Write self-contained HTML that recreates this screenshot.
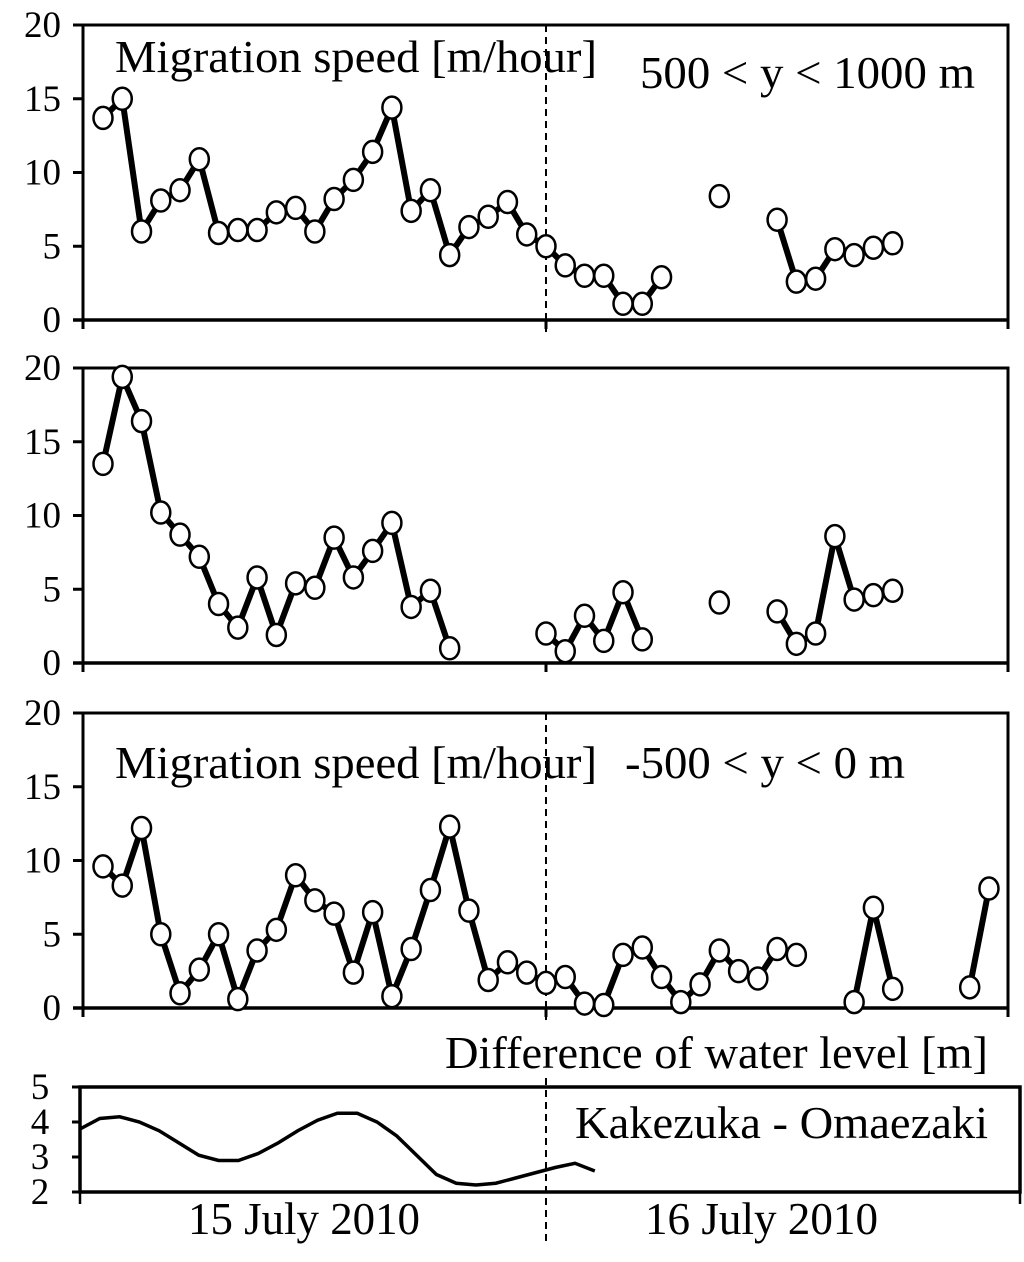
<!DOCTYPE html>
<html><head><meta charset="utf-8"><style>
html,body{margin:0;padding:0;background:#fff;}
svg{display:block;font-family:"Liberation Serif",serif;}
</style></head><body>
<svg id="chart" width="1024" height="1262" viewBox="0 0 1024 1262" xmlns="http://www.w3.org/2000/svg"></svg>
<script>
// Data (null = gap)
const hours = Array.from({length:47},(_,i)=>i);
const panel1Values = [13.7,15.0,6.0,8.1,8.8,10.9,5.9,6.1,6.1,7.3,7.6,6.0,8.2,9.5,11.4,14.4,7.4,8.8,4.4,6.3,7.0,8.0,5.8,5.0,3.7,3.0,3.0,1.1,1.1,2.9,null,null,8.4,null,null,6.8,2.6,2.8,4.8,4.4,4.9,5.2,null,null,null,null,null];
const panel2Values = [13.5,19.4,16.4,10.2,8.7,7.2,4.0,2.4,5.8,1.9,5.4,5.1,8.5,5.8,7.6,9.5,3.8,4.9,1.0,null,null,null,null,2.0,0.8,3.2,1.5,4.8,1.6,null,null,null,4.1,null,null,3.5,1.3,2.0,8.6,4.3,4.6,4.9,null,null,null,null,null];
const panel3Values = [9.6,8.3,12.2,5.0,1.0,2.6,5.0,0.6,3.9,5.3,9.0,7.3,6.4,2.4,6.5,0.8,4.0,8.0,12.3,6.6,1.9,3.1,2.4,1.7,2.1,0.3,0.2,3.6,4.1,2.1,0.4,1.6,3.9,2.5,2.0,4.0,3.6,null,null,0.4,6.8,1.3,null,null,null,1.4,8.1];
const speedTicks = [0,5,10,15,20];
const levelTicks = [2,3,4,5];
const levelValues = [3.8,4.1,4.15,4.0,3.75,3.4,3.05,2.9,2.9,3.1,3.4,3.75,4.05,4.25,4.25,4.0,3.6,3.05,2.5,2.25,2.2,2.25,2.4,2.55,2.7,2.82,2.6];

const svg=document.getElementById('chart');
const NS='http://www.w3.org/2000/svg';
function mk(tag,attrs,parent){const e=document.createElementNS(NS,tag);for(const k in attrs)e.setAttribute(k,attrs[k]);(parent||svg).appendChild(e);return e;}
const X0=103, DX=19.26;
function xs(i){return X0+DX*i;}

const panels=[
 {vals:panel1Values,top:25,bot:320,name:'panel-500-1000',dash:true},
 {vals:panel2Values,top:368,bot:663,name:'panel-0-500',dash:false},
 {vals:panel3Values,top:713,bot:1008,name:'panel-neg500-0',dash:true}
];
panels.forEach((p,pi)=>{
  const g=mk('g',{});
  
  
  const ys=v=>p.bot-(v/20)*(p.bot-p.top);
  const box=mk('path',{d:`M73 ${p.top} H1008 V${p.bot} M83 ${p.top} V${p.bot}`,fill:'none',stroke:'#000','stroke-width':3},g);
  
  
  const xa=mk('line',{x1:73,y1:p.bot,x2:1008,y2:p.bot,stroke:'#000','stroke-width':3.5},g);
  
  
  [83,546,1008].forEach(x=>{mk('line',{x1:x,y1:p.bot,x2:x,y2:p.bot+9,stroke:'#000','stroke-width':3},g);});
  speedTicks.forEach(t=>{
    const y=ys(t);
    mk('line',{x1:73,y1:y,x2:83,y2:y,stroke:'#000','stroke-width':3},g);
    const tx=mk('text',{x:61,y:y+12,'text-anchor':'end','font-size':37},g);
    tx.textContent=t;
    
    
  });
  if(p.dash){
    const dl=mk('line',{x1:546,y1:p.top,x2:546,y2:p.bot+12,stroke:'#000','stroke-width':2,'stroke-dasharray':'7,5'},g);
    
    
  }
  let seg=[];
  const flush=()=>{ if(seg.length>1){const pl=mk('polyline',{points:seg.join(' '),fill:'none',stroke:'#000','stroke-width':6,'stroke-linejoin':'miter'},g);
    
    } seg=[]; };
  hours.forEach(i=>{const v=p.vals[i]; if(v==null){flush();} else seg.push(xs(i)+','+ys(v));});
  flush();
  hours.forEach(i=>{const v=p.vals[i]; if(v==null)return;
    const c=mk('ellipse',{cx:xs(i),cy:ys(v),rx:9.5,ry:11,fill:'#fff',stroke:'#000','stroke-width':2.5},g);
    
    
  });
});
function txt(s,x,y,w,name){const t=mk('text',{x:x,y:y,'font-size':46,textLength:w,lengthAdjust:'spacingAndGlyphs'});t.textContent=s;
  
  return t;}
txt('Migration speed [m/hour]',115,72,482,'panel1-title');
txt('500 < y < 1000 m',640,88,335,'panel1-range');
txt('Migration speed [m/hour]',115,778,482,'panel3-title');
txt('-500 < y < 0 m',625,778,280,'panel3-range');
txt('Difference of water level [m]',445,1068,543,'water-level-title');

const wl=mk('g',{});


const WT=1087,WB=1192,WX0=80,WX1=1020;
const wy=v=>WB-(v-2)/3*(WB-WT);
const wf=mk('rect',{x:WX0,y:WT,width:WX1-WX0,height:WB-WT,fill:'none',stroke:'#000','stroke-width':3.5},wl);


levelTicks.forEach(t=>{const y=wy(t);
  mk('line',{x1:72,y1:y,x2:WX0,y2:y,stroke:'#000','stroke-width':3},wl);
  const tx=mk('text',{x:40,y:y+12,'text-anchor':'middle','font-size':37},wl);tx.textContent=t;
  
  
});
[WX0,WX1].forEach(x=>mk('line',{x1:x,y1:WB,x2:x,y2:WB+12,stroke:'#000','stroke-width':2.5},wl));
const wd=mk('line',{x1:546,y1:1078,x2:546,y2:1245,stroke:'#000','stroke-width':2,'stroke-dasharray':'7,5'},wl);


const WDX=19.8;
const lp=mk('polyline',{points:levelValues.map((v,i)=>(WX0+WDX*i)+','+wy(v)).join(' '),fill:'none',stroke:'#000','stroke-width':3.5},wl);


txt('Kakezuka - Omaezaki',575,1138,413,'water-level-label');
txt('15 July 2010',188,1234,232,'date-label-15');
txt('16 July 2010',645,1234,233,'date-label-16');
</script>
</body></html>
